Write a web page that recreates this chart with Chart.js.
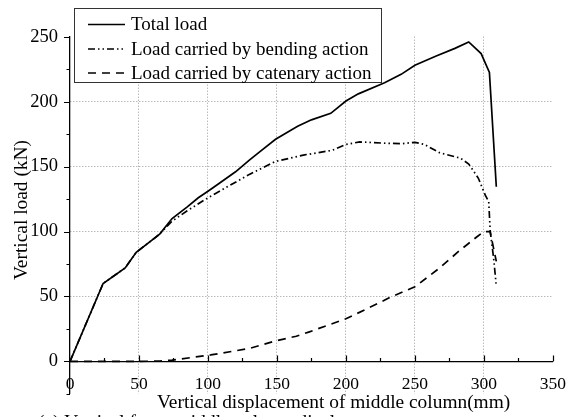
<!DOCTYPE html>
<html><head><meta charset="utf-8">
<script src="https://cdn.jsdelivr.net/npm/chart.js@4/dist/chart.umd.min.js"></script>
<style>html,body{margin:0;padding:0;background:#fff;}#wrap{width:578px;height:417px;position:relative;overflow:hidden;}</style>
</head><body><div id="wrap"><canvas id="c" width="578" height="417"></canvas></div>
<script>
// ---- data ----
const seriesNames = ['Total load', 'Load carried by bending action', 'Load carried by catenary action'];
const totalDisp = [0, 24, 40, 48, 65, 74, 85, 93, 100, 108, 120, 130, 137, 149, 165, 175, 189, 200, 209, 228, 240, 250, 265, 279, 289, 298, 304, 309];
const totalLoad = [0, 60, 72, 84, 98, 110, 119, 126, 131, 137, 146, 155, 161, 171, 181, 186, 191, 200.5, 206, 214.5, 221, 228, 235, 241, 246, 237, 222.5, 134.5];
const bendDisp = [0, 24, 40, 48, 65, 74, 85, 100, 115, 130, 149, 170, 190, 200, 210, 228, 241, 250, 257, 268, 283, 289, 296, 301, 303.5, 304.6, 307, 309];
const bendLoad = [0, 60, 72, 84, 98, 108, 116, 126, 135, 144, 154, 159, 162.5, 167, 169, 168, 167.7, 168.7, 167, 160.6, 156.5, 152, 141, 128, 123, 100, 80, 58];
const catDisp = [0, 50, 65, 74, 102, 130, 149, 164, 173, 200, 220, 232, 250, 268, 282, 295, 300, 304.5, 309];
const catLoad = [0, 0, 0.3, 1, 5, 10, 15.8, 19.4, 22.6, 32.8, 43, 49.3, 57.5, 72, 85, 96, 100, 100, 77];
const xTicks = [0, 50, 100, 150, 200, 250, 300, 350];
const xMinorTicks = [25, 75, 125, 175, 225, 275, 325];
const yTicks = [0, 50, 100, 150, 200, 250];
const yMinorTicks = [-25, 25, 75, 125, 175, 225];
const xTitle = 'Vertical displacement of middle column(mm)';
const yTitle = 'Vertical load (kN)';
const caption = '(a) Vertical force-middle column displacement';

const FONT = '"Liberation Serif", "Times New Roman", serif';
const pts = (xs, ys) => xs.map((x, i) => ({x, y: ys[i]}));

const styles = [
  {dash: []},
  {dash: [7, 3, 1.5, 3, 1.5, 3]},
  {dash: [8, 6]}
];

const decor = {
  id: 'decor',
  afterDraw(chart) {
    const ctx = chart.ctx, xs = chart.scales.x, ys = chart.scales.y;
    const x0 = xs.getPixelForValue(0), y0 = ys.getPixelForValue(0);
    ctx.save();
    ctx.strokeStyle = '#000';
    ctx.lineWidth = 1.2;
    ctx.beginPath();
    yTicks.forEach(v => { const p = Math.round(ys.getPixelForValue(v)) + 0.5; ctx.moveTo(x0 - 6, p); ctx.lineTo(x0, p); });
    yMinorTicks.forEach(v => { const p = Math.round(ys.getPixelForValue(v)) + 0.5; ctx.moveTo(x0 - 3.5, p); ctx.lineTo(x0, p); });
    xTicks.forEach(v => { if (v === 0) return; const p = Math.round(xs.getPixelForValue(v)) + 0.5; ctx.moveTo(p, y0); ctx.lineTo(p, y0 - 6); });
    xMinorTicks.forEach(v => { const p = Math.round(xs.getPixelForValue(v)) + 0.5; ctx.moveTo(p, y0); ctx.lineTo(p, y0 - 3.5); });
    ctx.stroke();

    // legend
    const L = 74.5, T = 8.5, R = 381.5, B = 82.5;
    ctx.fillStyle = '#fff';
    ctx.fillRect(L, T, R - L, B - T);
    ctx.strokeStyle = '#333';
    ctx.lineWidth = 1;
    ctx.strokeRect(L, T, R - L, B - T);
    const rows = [24.5, 49, 73];
    ctx.font = '19px ' + FONT;
    ctx.textBaseline = 'middle';
    ctx.fillStyle = '#000';
    chart.data.datasets.forEach((ds, i) => {
      ctx.strokeStyle = '#000';
      ctx.lineWidth = 1.6;
      ctx.setLineDash(ds.borderDash || []);
      ctx.beginPath();
      ctx.moveTo(88, rows[i]);
      ctx.lineTo(125, rows[i]);
      ctx.stroke();
      ctx.setLineDash([]);
      ctx.fillText(ds.label, 131, rows[i] + 1);
    });

    // axis titles and caption
    ctx.font = '19.4px ' + FONT;
    ctx.textBaseline = 'alphabetic';
    ctx.textAlign = 'left';
    ctx.fillText(xTitle, 157, 408);
    ctx.fillText(caption, 38, 428);
    ctx.save();
    ctx.translate(27, 210);
    ctx.rotate(-Math.PI / 2);
    ctx.textAlign = 'center';
    ctx.fillText(yTitle, 0, 0);
    ctx.restore();
    ctx.restore();
  }
};

new Chart(document.getElementById('c'), {
  type: 'line',
  data: {
    datasets: [
      {label: seriesNames[0], data: pts(totalDisp, totalLoad), borderDash: styles[0].dash},
      {label: seriesNames[1], data: pts(bendDisp, bendLoad), borderDash: styles[1].dash},
      {label: seriesNames[2], data: pts(catDisp, catLoad), borderDash: styles[2].dash}
    ].map(d => Object.assign(d, {borderColor: '#000', borderWidth: 1.7, pointRadius: 0, tension: 0, fill: false}))
  },
  options: {
    responsive: false,
    devicePixelRatio: 1,
    animation: false,
    layout: {padding: {left: 0, right: 16, top: 36.7, bottom: 19.5}},
    plugins: {legend: {display: false}, tooltip: {enabled: false}},
    scales: {
      x: {
        type: 'linear', min: 0, max: 350,
        position: {y: 0},
        afterBuildTicks: s => { s.ticks = xTicks.map(v => ({value: v})); },
        afterFit: s => { s.height = 0; },
        grid: {drawTicks: false, color: c => (c.tick && (c.tick.value === 0 || c.tick.value === 350)) ? 'rgba(0,0,0,0)' : '#9a9a9a', lineWidth: 1},
        border: {display: true, color: '#000', width: 1.3, dash: [1, 2]},
        ticks: {padding: 12, color: '#000', font: {family: FONT, size: 17.5}, maxRotation: 0, autoSkip: false}
      },
      y: {
        type: 'linear', min: -25, max: 250,
        afterBuildTicks: s => { s.ticks = yTicks.map(v => ({value: v})); },
        afterFit: s => { s.width = 70; },
        grid: {drawTicks: false, color: c => (c.tick && (c.tick.value === 0 || c.tick.value === 250)) ? 'rgba(0,0,0,0)' : '#9a9a9a', lineWidth: 1},
        border: {display: true, color: '#000', width: 1.3, dash: [1, 2]},
        ticks: {padding: 12, color: '#000', font: {family: FONT, size: 18.5}, autoSkip: false}
      }
    }
  },
  plugins: [decor]
});
</script></body></html>
